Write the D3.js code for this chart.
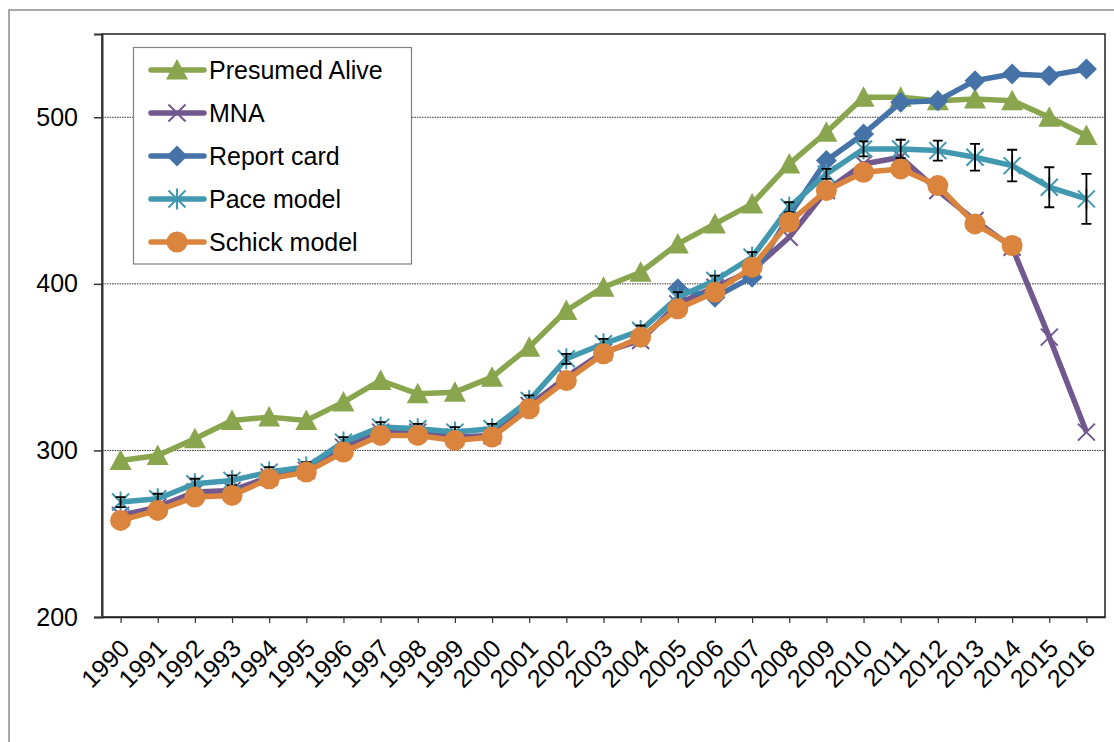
<!DOCTYPE html>
<html>
<head>
<meta charset="utf-8">
<script src="https://cdn.jsdelivr.net/npm/d3@7/dist/d3.min.js"></script>
<style>
  html, body { margin: 0; padding: 0; background: #fff; }
  svg { display: block; }
  text { font-family: "Liberation Sans", Arial, sans-serif; fill: #000; }
</style>
</head>
<body>
<svg id="chart" width="1114" height="742"></svg>
<script>
// ---------- data ----------
const years = [1990,1991,1992,1993,1994,1995,1996,1997,1998,1999,2000,2001,2002,2003,2004,2005,2006,2007,2008,2009,2010,2011,2012,2013,2014,2015,2016];
const presumedAlive = [294,297,307,318,320,318,329,342,334,335,344,362,384,398,407,424,436,448,472,491,512,512,510,511,510,500,489];
const mna = [261,266,275,276,284,288,302,311,311,308,309,327,344,359,366,388,398,408,428,456,472,476,456,438,422,368,311];
const reportCard = [null,null,null,null,null,null,null,null,null,null,null,null,null,null,null,397,392,404,441,474,490,509,510,522,526,525,529];
const paceModel = [269,271,280,282,287,290,305,314,313,311,313,330,355,364,372,392,402,416,446,466,481,481,480,476,471,458,451];
const paceError = [3,3,3,3,3,3,3,3,3,3,3,3,3,3,3,3,3,3,3,3,4.5,5.5,6,8,9.5,12,15];
const schickModel = [258,264,272,273,283,287,299,309,309,306,308,325,342,358,368,385,395,410,437,456,467,469,459,436,423,null,null];
const yTicks = [200,300,400,500];
const seriesNames = ["Presumed Alive","MNA","Report card","Pace model","Schick model"];

// ---------- setup ----------
const svg = d3.select("#chart");
const pLeft = 102, pRight = 1105, pTop = 34, pBottom = 617;
const x = d3.scalePoint().domain(years).range([pLeft, pRight]).padding(0.5);
const y = d3.scaleLinear().domain([200, 550]).range([pBottom, pTop]);

const colors = {
  "Presumed Alive": "#89A54E",
  "MNA": "#71588F",
  "Report card": "#4572A7",
  "Pace model": "#4198AF",
  "Schick model": "#DB843D"
};
const markers = {
  "Presumed Alive": "triangle",
  "MNA": "x",
  "Report card": "diamond",
  "Pace model": "star",
  "Schick model": "circle"
};

// outer frame
svg.append("path")
  .attr("d", "M9,745 L9,10 L1120,10")
  .attr("fill", "none").attr("stroke", "#8c8c8c").attr("stroke-width", 1.5);

// gridlines
svg.append("g").selectAll("line").data([300,400,500]).join("line")
  .attr("x1", pLeft).attr("x2", pRight)
  .attr("y1", d => y(d)).attr("y2", d => y(d))
  .attr("stroke", "#333").attr("stroke-width", 1).attr("stroke-dasharray", "1.5,1");

// plot border
svg.append("rect")
  .attr("x", pLeft).attr("y", pTop).attr("width", pRight - pLeft).attr("height", pBottom - pTop)
  .attr("fill", "none").attr("stroke", "#222").attr("stroke-width", 1.5);

// y axis
const yAxis = svg.append("g").attr("transform", `translate(${pLeft},0)`)
  .call(d3.axisLeft(y).tickValues(yTicks).tickSize(8).tickPadding(16).tickFormat(d3.format("d")));
yAxis.select(".domain").attr("stroke", "#333").attr("stroke-width", 2);
yAxis.selectAll(".tick line").attr("stroke", "#333").attr("stroke-width", 1.5);
yAxis.selectAll("text").style("font-size", "25px").attr("fill", "#000");

// x axis
const xAxis = svg.append("g").attr("transform", `translate(0,${pBottom})`)
  .call(d3.axisBottom(x).tickSize(6).tickSizeOuter(0));
xAxis.select(".domain").attr("stroke", "#222").attr("stroke-width", 1.5);
xAxis.selectAll(".tick line").attr("stroke", "#333").attr("stroke-width", 1.2);
xAxis.selectAll("text")
  .style("font-size", "25px")
  .attr("text-anchor", "end")
  .attr("y", 0).attr("dy", 0)
  .attr("transform", "translate(10,33) rotate(-45)");

// ---------- marker drawing ----------
function drawMarker(g, type, color) {
  if (type === "triangle") {
    g.append("path").attr("d", "M0,-11 L11,9.5 L-11,9.5 Z").attr("fill", color);
  } else if (type === "diamond") {
    g.append("path").attr("d", "M0,-10.5 L10.5,0 L0,10.5 L-10.5,0 Z").attr("fill", color);
  } else if (type === "circle") {
    g.append("circle").attr("r", 10.5).attr("fill", color);
  } else if (type === "x") {
    g.append("path").attr("d", "M-8.5,-8.5 L8.5,8.5 M-8.5,8.5 L8.5,-8.5").attr("stroke", color).attr("stroke-width", 2).attr("fill", "none");
  } else if (type === "star") {
    g.append("path").attr("d", "M-8.5,-8.5 L8.5,8.5 M-8.5,8.5 L8.5,-8.5 M0,-10.5 L0,10.5").attr("stroke", color).attr("stroke-width", 2).attr("fill", "none");
  }
}

const allSeries = [
  { name: "Presumed Alive", values: presumedAlive },
  { name: "MNA", values: mna },
  { name: "Report card", values: reportCard },
  { name: "Pace model", values: paceModel },
  { name: "Schick model", values: schickModel }
];

const line = d3.line()
  .defined(d => d.v != null)
  .x(d => x(d.year)).y(d => y(d.v));

allSeries.forEach(s => {
  const pts = years.map((yr, i) => ({ year: yr, v: s.values[i], i }));
  const g = svg.append("g");
  g.append("path").datum(pts)
    .attr("d", line)
    .attr("fill", "none")
    .attr("stroke", colors[s.name])
    .attr("stroke-width", 5.5)
    .attr("stroke-linejoin", "round");
  pts.filter(p => p.v != null).forEach(p => {
    const mg = g.append("g").attr("transform", `translate(${x(p.year)},${y(p.v)})`);
    drawMarker(mg, markers[s.name], colors[s.name]);
  });
  if (s.name === "Pace model") {
    const eg = svg.append("g");
    pts.forEach(p => {
      const e = paceError[p.i];
      const cx = x(p.year);
      const y1 = y(p.v + e), y2 = y(p.v - e);
      eg.append("path")
        .attr("d", `M${cx},${y1} L${cx},${y2} M${cx-5},${y1} L${cx+5},${y1} M${cx-5},${y2} L${cx+5},${y2}`)
        .attr("stroke", "#000").attr("stroke-width", 1.8).attr("fill", "none");
    });
  }
});

// ---------- legend ----------
const lg = svg.append("g");
lg.append("rect").attr("x", 133.5).attr("y", 47.5).attr("width", 278).attr("height", 216.5)
  .attr("fill", "#fff").attr("stroke", "#808080").attr("stroke-width", 1.2);
seriesNames.forEach((name, i) => {
  const ly = 70 + i * 43;
  lg.append("line").attr("x1", 151).attr("x2", 204).attr("y1", ly).attr("y2", ly)
    .attr("stroke", colors[name]).attr("stroke-width", 5.5).attr("stroke-linecap", "round");
  const mg = lg.append("g").attr("transform", `translate(177,${ly})`);
  drawMarker(mg, markers[name], colors[name]);
  lg.append("text").attr("x", 209).attr("y", ly).attr("dy", "0.36em")
    .style("font-size", "25px").text(name);
});
</script>
</body>
</html>
